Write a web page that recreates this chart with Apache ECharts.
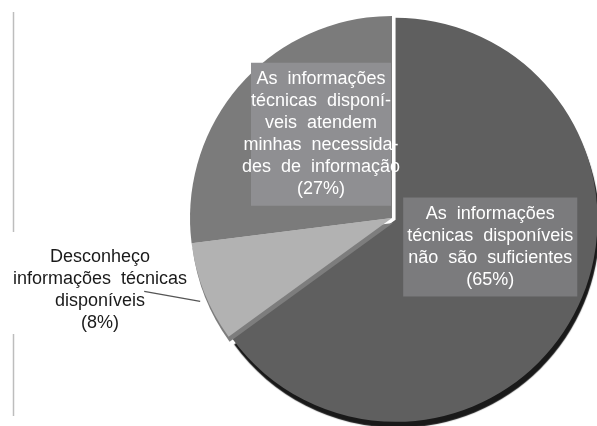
<!DOCTYPE html>
<html>
<head>
<meta charset="utf-8">
<script src="https://cdn.jsdelivr.net/npm/echarts@6/dist/echarts.min.js"></script>
<style>
    html, body { margin: 0; padding: 0; background: #fff; }
    #chart { width: 597px; height: 426px; }
</style>
</head>
<body>
<div id="chart"></div>
<script>
    // categorias e valores (%)
    var categories = [
        'As  informações\ntécnicas  disponíveis\nnão  são  suficientes',
        'Desconheço\ninformações  técnicas\ndisponíveis',
        'As  informações\ntécnicas  disponí-\nveis  atendem\nminhas  necessida-\ndes  de  informação'
    ];
    var values = [65, 8, 27];
    var sliceColors = ['#5f5f5f', '#b2b2b2', '#7b7b7b'];

    var chart = echarts.init(document.getElementById('chart'));

    var data = categories.map(function (name, i) {
        var item = {
            name: name,
            value: values[i],
            itemStyle: { color: sliceColors[i] }
        };
        if (i === 0) {
            item.selected = true;
            item.itemStyle.shadowColor = 'rgba(25,25,25,1)';
            item.itemStyle.shadowOffsetX = 2;
            item.itemStyle.shadowOffsetY = 6;
            item.itemStyle.shadowBlur = 1;
            item.label = {
                position: 'inside',
                color: '#fff',
                backgroundColor: '#7b7b7d',
                padding: [6, 4, 5, 4]
            };
        } else if (i === 1) {
            item.itemStyle.shadowColor = 'rgba(125,125,125,1)';
            item.itemStyle.shadowOffsetX = 1;
            item.itemStyle.shadowOffsetY = 5;
            item.itemStyle.shadowBlur = 0;
            item.label = {
                position: 'outside',
                color: '#1a1a1a'
            };
            item.labelLine = { show: true, length: 6, length2: 30, lineStyle: { color: '#555', width: 1.2 } };
        } else {
            item.label = {
                position: 'inside',
                color: '#fff',
                backgroundColor: '#8f8f92',
                width: 138,
                overflow: 'none',
                padding: [6, 1, 5, 1]
            };
        }
        return item;
    });

    var option = {
        backgroundColor: '#fff',
        animation: false,
        graphic: [
            { type: 'line', shape: { x1: 13.5, y1: 12, x2: 13.5, y2: 232 }, style: { stroke: '#bdbdbd', lineWidth: 1.5 } },
            { type: 'line', shape: { x1: 13.5, y1: 334, x2: 13.5, y2: 416 }, style: { stroke: '#bdbdbd', lineWidth: 1.5 } }
        ],
        series: [
            {
                type: 'pie',
                center: [392, 218],
                radius: 202,
                startAngle: 90,
                clockwise: true,
                selectedMode: 'single',
                selectedOffset: 4,
                avoidLabelOverlap: false,
                itemStyle: { borderWidth: 0 },
                label: {
                    fontFamily: 'Liberation Sans, Arial, sans-serif',
                    fontSize: 18,
                    lineHeight: 22,
                    align: 'center',
                    formatter: function (p) {
                        return p.name + '\n(' + p.value + '%)';
                    }
                },
                labelLayout: function (params) {
                    if (params.dataIndex === 0) return { dx: 2, dy: -20 };
                    if (params.dataIndex === 2) return { dx: 7, dy: -15 };
                    // etiqueta externa (8%): centrada, linha até o fim de "disponíveis"
                    var p0 = params.labelLinePoints ? params.labelLinePoints[0] : [204, 292];
                    var start = [p0[0] - 4, p0[1] + 9];
                    var end = [p0[0] - 60, p0[1] - 1];
                    return {
                        x: 100, y: 290, align: 'center', verticalAlign: 'middle',
                        labelLinePoints: [start, [(start[0] + end[0]) / 2, (start[1] + end[1]) / 2], end]
                    };
                },
                emphasis: { disabled: true },
                data: data
            }
        ]
    };

    chart.setOption(option);
    window.addEventListener('resize', function () {
        chart.resize();
    });
</script>
</body>
</html>
